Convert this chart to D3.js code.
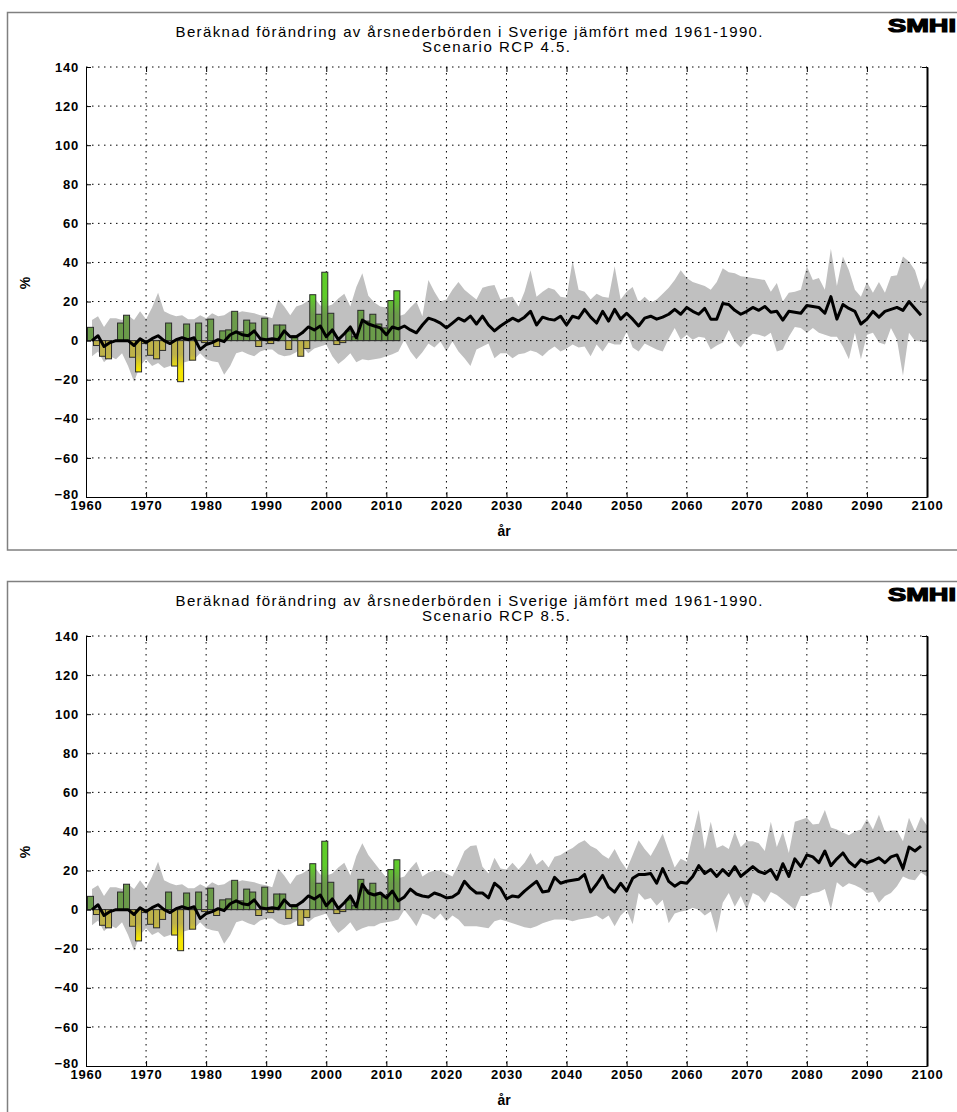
<!DOCTYPE html>
<html>
<head>
<meta charset="utf-8">
<script src="https://cdn.jsdelivr.net/npm/d3@7/dist/d3.min.js"></script>
<style>
  body { margin: 0; background: #fff; }
  svg { display: block; }
  text { font-family: "Liberation Sans", Arial, Helvetica, sans-serif; fill: #000; }
  .tick text { font-size: 13px; font-weight: bold; letter-spacing: 0.8px; }
</style>
</head>
<body>
<svg id="chart" width="957" height="1112"></svg>
<script>
// observerad avvikelse (%) mot 1961-1990, staplar 1961-2012
const obsStart = 1961;
const obsValues = [
  6.8, -2.5, -8, -9.3, 0, 9, 13, -8.5, -16, -1.5,
  -7.5, -9.3, -5, 9, -13, -21, 8.5, -10, 9, -1,
  11, -3, 5, 5.5, 15, 4.5, 10.5, 9, -3, 11.5,
  -1.5, 8, 8, -4.5, 2.5, -8, -4, 23.5, 13.5, 35,
  14, -2, -1, 5, 2, 15.5, 10, 13.5, 8.5, 6.5,
  20.5, 25.5
];

// gemensam historisk period 1961-2005
const histMedian = [
  0, 2.5, -3, -1, 0, 0, 0, -2.5, 1, -1,
  1, 2.5, 0, -1.5, 0.5, 1.5, 0.5, 1.5, -4.5, -2,
  -1, 0.5, -0.5, 3, 4.5, 3, 2.5, 5, 1, 0.5,
  1, 0.5, 5, 2, 2, 4, 7, 5.5, 7.5, 2,
  5.5, 0.5, 3.5, 7, 1.5
];
const histUpper = [
  10.5, 12.5, 7, 11.5, 11.5, 10.5, 13, 10.5, 15, 11,
  17, 24.5, 15, 13.5, 12.5, 13, 11, 11, 13, 11.5,
  14, 12.5, 13, 15, 14, 15, 14.5, 14, 13, 12.5,
  11.5, 21, 17.5, 13, 17.5, 18.5, 20.5, 22, 18, 17.5,
  18.5, 21.5, 24, 17.5, 27.5
];
const histLower = [
  -8, -5.5, -11, -8, -9.5, -6.5, -13, -21, -13, -9.5,
  -13, -11.5, -14, -13, -10, -11.5, -10.5, -9.5, -6.5, -9.5,
  -10.5, -11, -17.5, -13, -6.5, -5.5, -7, -8, -5.5, -4.5,
  -4.5, -7, -8, -7.5, -6, -3, -6.5, -4, -3, -2,
  -8, -12, -9.5, -6.5, -11
];

// RCP 4.5, 2006-2099 (median) och 2006-2100 (max/min)
const rcp45Median = [
  10.5, 8.5, 7.5, 6.5, 3, 7, 6, 7.5, 5.5, 4,
  8, 11.5, 10.5, 9, 6.5, 9, 11.5, 10, 12.5, 8.5,
  12.5, 8, 5, 7.5, 9.5, 11.5, 10, 12, 15, 8,
  12, 11, 10.5, 12.5, 8, 12.5, 11.5, 16, 12, 9,
  15, 10, 16, 11, 14, 11, 7.5, 11.5, 12.5, 11,
  12, 13.5, 16, 13.5, 17, 15, 13.5, 16.5, 11, 11,
  19, 18.5, 15.5, 13.5, 15, 17, 15.5, 17.5, 14.5, 15,
  10.5, 15, 14.5, 14, 18, 17.5, 17, 14, 22.5, 11,
  18.5, 16.5, 15, 8.5, 11, 15, 12, 15, 16, 17,
  15.5, 20, 16.5, 13
];
const rcp45Upper = [
  34.5, 23, 19.5, 17.5, 17, 16.5, 12.5, 13.5, 17, 20,
  12.5, 31, 25, 20, 21, 26, 30, 26, 23.5, 21,
  27, 28, 28.5, 21, 22, 22.5, 17.5, 25, 36, 22.5,
  25, 27, 26, 22.5, 22, 41, 26, 25, 21, 24,
  22.5, 22, 38, 21, 25, 27.5, 19.5, 22.5, 19.5, 21,
  24, 27, 31, 36, 32, 30, 29, 28, 26, 30,
  37, 35, 34.5, 33, 32.5, 32, 31.5, 31, 25, 29.5,
  20, 24.5, 25, 26, 38, 31, 32, 26, 47, 28,
  43, 36, 26, 22.5, 30, 24.5, 30, 24.5, 33, 33.5,
  43, 40.5, 36, 26, 32
];
const rcp45Lower = [
  -9.5, -10, -9.5, -9, -8, -7, -5.5, 0.5, -5.5, -9.5,
  -6, -1.5, -3.5, -0.5, -5.5, -0.5, -5.5, -9, -13, -4.5,
  -3, -1.5, -9, -6.5, -6.5, -9, -7, -6.5, -5, -6,
  -8, -5, -3, -5.5, -4, -2, -3.5, -3, -8, -2,
  -5.5, -1, -2, -2, 4.5, -3.5, -5.5, -1.5, -3, -4.5,
  -5.5, 1, 6.5, 0.5, 3, 0.5, 2, 1.5, -4.5, -2.5,
  -1, 5.5, -0.5, -3.5, 1, 3.5, 3, 2, 4, -5.5,
  -4.5, 2, 7, 6.5, 4, 6.5, 4, 3, 2, 2,
  -3, -9.5, 4, -9.5, 3, 4, -1, -2, 6.5, 0.5,
  -18, 4, 0, -0.5, 0
];

// RCP 8.5
const rcp85Median = [
  13, 8.5, 7.5, 8.5, 6, 9.5, 4.5, 6.5, 10.5, 8,
  7, 6.5, 8.5, 7.5, 6, 6.5, 8.5, 14.5, 11, 8.5,
  8.5, 6, 13.5, 11, 5.5, 7, 6.5, 9.5, 12, 14.5,
  9, 9.5, 16.5, 13.5, 14.5, 15, 15.5, 18, 9, 13,
  17.5, 11.5, 9, 13.5, 9.5, 16, 18, 18, 18.5, 13.5,
  21, 14.5, 12, 14, 13.5, 17, 22.5, 18.5, 20.5, 17,
  20.5, 17.5, 22, 17, 19.5, 22, 19.5, 18.5, 20.5, 15.5,
  23.5, 17, 26, 22, 28, 27, 24, 30, 22.5, 26,
  29, 24.5, 22, 25.5, 24, 25, 26.5, 24, 27, 28,
  21, 32, 30, 32.5
];
const rcp85Upper = [
  34, 28, 24, 20, 16.5, 18.5, 16, 17, 21, 24.5,
  17, 19, 20, 20, 18.5, 17, 23, 30, 32.5, 33,
  22, 18.5, 26.5, 21, 20.5, 24, 20.5, 24, 29, 23,
  25.5, 21.5, 27, 28, 30, 31.5, 34, 35.5, 32.5, 31,
  28, 26, 31, 25, 20.5, 28, 35.5, 31, 27.5, 33,
  39, 30, 21.5, 26, 24.5, 38, 51, 31, 45, 31.5,
  33, 31, 40, 32, 35, 35, 34, 30, 45, 32,
  40, 29, 45, 46, 47, 43.5, 44, 51, 42, 41,
  39.5, 38, 40, 41, 46.5, 41, 48.5, 40, 40.5, 40.5,
  35, 47, 40, 47.5, 43
];
const rcp85Lower = [
  -9.5, -8.5, -8.5, -7, -6.5, -6, -5, 0, -4, -8.5,
  -2, -3, -5, -2, -6, -3, -5, -8.5, -8.5, -8.5,
  -9, -9.5, -6, -5, -6, -7, -8, -9, -9.5, -8.5,
  -7, -6, -5, -5, -5, -6, -5, -4.5, -4, -3,
  -5, -3, -8.5, -3, 0, -7.5, 8.5, 5, 6, 2,
  5, -7, -2, -1, -0.5, 1, 0, -3, -1, -12,
  3.5, 8.5, 1.5, 7, 0, 8.5, 7, 3.5, 9, 7.5,
  5, 2.5, 0, 7, 7, 8.5, 9, 10.5, 0, 14,
  11.5, 13.5, 12.5, 11, 8.5, 9, 3.5, 7, 8.5, 12,
  17, 15.5, 15, 19, 17
];

const yTicks = [-80, -60, -40, -20, 0, 20, 40, 60, 80, 100, 120, 140];
const xTicks = [1960, 1970, 1980, 1990, 2000, 2010, 2020, 2030, 2040, 2050, 2060, 2070, 2080, 2090, 2100];
const titleLine1 = "Beräknad förändring av årsnederbörden i Sverige jämfört med 1961-1990.";
const scenarios = [
  { name: "Scenario RCP 4.5.", median: rcp45Median, upper: rcp45Upper, lower: rcp45Lower },
  { name: "Scenario RCP 8.5.", median: rcp85Median, upper: rcp85Upper, lower: rcp85Lower }
];

const svg = d3.select("#chart");
const panelOffset = 569;

const x = d3.scaleLinear().domain([1960, 2100]).range([86, 927]);
const y = d3.scaleLinear().domain([-80, 140]).range([497, 67]);

// färgskala för staplarna
const defs = svg.append("defs");
const wetGrad = defs.append("linearGradient")
  .attr("id", "wet").attr("gradientUnits", "userSpaceOnUse")
  .attr("x1", 0).attr("x2", 0).attr("y1", y(0)).attr("y2", y(30));
wetGrad.append("stop").attr("offset", 0).attr("stop-color", "#6b9b4a");
wetGrad.append("stop").attr("offset", 0.45).attr("stop-color", "#6b9b4a");
wetGrad.append("stop").attr("offset", 0.75).attr("stop-color", "#5fcc2a");
wetGrad.append("stop").attr("offset", 1).attr("stop-color", "#5fcc2a");

const dryGrad = defs.append("linearGradient")
  .attr("id", "dry").attr("gradientUnits", "userSpaceOnUse")
  .attr("x1", 0).attr("x2", 0).attr("y1", y(0)).attr("y2", y(-20));
dryGrad.append("stop").attr("offset", 0).attr("stop-color", "#bdb14a");
dryGrad.append("stop").attr("offset", 0.35).attr("stop-color", "#bdb14a");
dryGrad.append("stop").attr("offset", 0.75).attr("stop-color", "#f5e600");
dryGrad.append("stop").attr("offset", 1).attr("stop-color", "#f5e600");

const obs = obsValues.map((v, i) => ({ year: obsStart + i, value: v }));

function drawPanel(sc, idx) {
  const g = svg.append("g").attr("transform", `translate(0,${idx * panelOffset})`);

  const upper = histUpper.concat(sc.upper);
  const lower = histLower.concat(sc.lower);
  const median = histMedian.concat(sc.median);
  const band = upper.map((u, i) => ({ year: 1961 + i, hi: u, lo: lower[i] }));
  const line = median.map((m, i) => ({ year: 1961 + i, value: m }));

  // ram runt figuren
  g.append("rect")
    .attr("x", 7.5).attr("y", 12.5)
    .attr("width", 970).attr("height", 537.5)
    .attr("fill", "none").attr("stroke", "#808080").attr("stroke-width", 1.5);

  g.append("path")
    .datum(band)
    .attr("d", d3.area().x(d => x(d.year)).y0(d => y(d.lo)).y1(d => y(d.hi)))
    .attr("fill", "#c0c0c0");

  // prickat rutnät
  g.append("g").selectAll("line")
    .data(yTicks.slice(1))
    .join("line")
    .attr("x1", x(1960)).attr("x2", x(2100))
    .attr("y1", d => y(d)).attr("y2", d => y(d))
    .attr("stroke", "#000").attr("stroke-width", 1)
    .attr("stroke-dasharray", "1.5,4.5");
  g.append("g").selectAll("line")
    .data(xTicks.slice(1, -1))
    .join("line")
    .attr("x1", d => x(d)).attr("x2", d => x(d))
    .attr("y1", y(140)).attr("y2", y(-80))
    .attr("stroke", "#000").attr("stroke-width", 1)
    .attr("stroke-dasharray", "1.5,4.5");

  const bw = x(1961) - x(1960);
  g.append("g").selectAll("rect")
    .data(obs)
    .join("rect")
    .attr("x", d => x(d.year - 0.75))
    .attr("width", bw)
    .attr("y", d => y(Math.max(0, d.value)))
    .attr("height", d => Math.abs(y(d.value) - y(0)))
    .attr("fill", d => d.value >= 0 ? "url(#wet)" : "url(#dry)")
    .attr("stroke", "#2b2b2b").attr("stroke-width", 1);

  g.append("path")
    .datum(line)
    .attr("d", d3.line().x(d => x(d.year)).y(d => y(d.value)))
    .attr("fill", "none").attr("stroke", "#000")
    .attr("stroke-width", 3).attr("stroke-linejoin", "round");

  // axlar
  const left = g.append("g").attr("transform", `translate(${x(1960)},0)`)
    .call(d3.axisLeft(y).tickValues(yTicks).tickSize(-5).tickSizeOuter(0).tickPadding(7));
  left.selectAll(".tick text").filter(d => d === -80).attr("dy", "0.1em");
  const bottom = g.append("g").attr("transform", `translate(0,${y(-80)})`)
    .call(d3.axisBottom(x).tickValues(xTicks).tickFormat(d3.format("d")).tickSize(-5).tickSizeOuter(0).tickPadding(4));
  const right = g.append("g").attr("transform", `translate(${x(2100)},0)`)
    .call(d3.axisRight(y).tickValues(yTicks).tickSize(-5).tickSizeOuter(0).tickFormat(""));
  const top = g.append("g").attr("transform", `translate(0,${y(140)})`)
    .call(d3.axisTop(x).tickValues(xTicks).tickSize(-5).tickSizeOuter(0).tickFormat(""));
  top.select(".domain").remove();
  right.select(".domain").attr("stroke-width", 2);
  [left, bottom, right, top].forEach(a => a.selectAll("line, path").attr("stroke", "#000"));

  g.append("text")
    .attr("x", 469).attr("y", 37)
    .attr("text-anchor", "middle")
    .attr("font-size", 15)
    .attr("textLength", 587).attr("lengthAdjust", "spacing")
    .text(titleLine1);
  g.append("text")
    .attr("x", 496).attr("y", 52)
    .attr("text-anchor", "middle")
    .attr("font-size", 15)
    .attr("textLength", 148).attr("lengthAdjust", "spacing")
    .text(sc.name);

  g.append("text")
    .attr("x", 888).attr("y", 32)
    .attr("font-size", 19).attr("font-weight", "bold")
    .attr("stroke", "#000").attr("stroke-width", 1.2)
    .attr("textLength", 68).attr("lengthAdjust", "spacingAndGlyphs")
    .text("SMHI");

  g.append("text")
    .attr("transform", `translate(30,283) rotate(-90)`)
    .attr("text-anchor", "middle")
    .attr("font-size", 14).attr("font-weight", "bold")
    .text("%");

  g.append("text")
    .attr("x", 504).attr("y", 536)
    .attr("text-anchor", "middle")
    .attr("font-size", 14).attr("font-weight", "bold")
    .text("år");
}

scenarios.forEach(drawPanel);
</script>
</body>
</html>
